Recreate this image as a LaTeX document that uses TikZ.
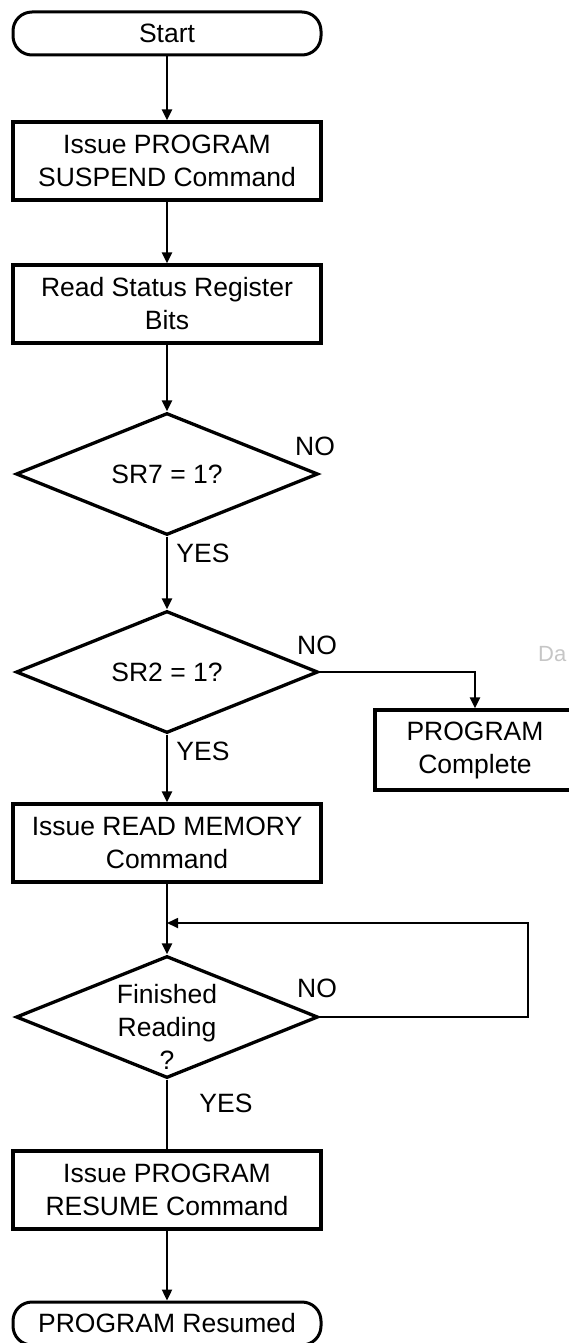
\documentclass[tikz,border=0pt]{standalone}
\usepackage{fontspec}
\setmainfont{Liberation Sans}
\usetikzlibrary{shapes.geometric,arrows.meta}

\begin{document}
\begin{tikzpicture}[x = 1pt, y = -1pt,
	 font = \fontsize{26.5}{33}\selectfont,
	 term/.style = {draw, line width = 3pt, rounded corners = 19pt, minimum width = 308pt, minimum height = 43pt, inner sep = 0pt},
	 proc/.style = {draw, line width = 3.3pt, minimum width = 308pt, minimum height = 78pt, inner sep = 0pt, align = center},
	 decision/.style = {draw, diamond, aspect = 2.5, line width = 3.3pt, minimum width = 302pt, minimum height = 122pt, inner sep = 0pt},
	 flow/.style = {line width = 2.3pt, -{Triangle[length = 11pt, width = 10pt]}},
	 back/.style = {line width = 1.7pt, -{Triangle[length = 11pt, width = 10pt]}}]
	 \useasboundingbox (0, 0) rectangle (569, 1343);
	 
	 \node[term] (start) at (167, 33.5) {Start};
	 \node[proc] (suspend) at (167, 161) {Issue PROGRAM\\SUSPEND Command};
	 \node[proc] (status) at (167, 304) {Read Status Register\\Bits};
	 \node[decision] (sr7) at (167, 474) {SR7 = 1?};
	 \node[decision] (sr2) at (167, 672) {SR2 = 1?};
	 \node[proc, minimum width = 200pt, minimum height = 80pt] (complete) at (475, 750) {PROGRAM\\Complete};
	 \node[proc] (readmem) at (167, 843) {Issue READ MEMORY\\Command};
	 \node[decision, label = {[align = center, yshift = -10pt]center:Finished\\Reading\\?}] (finished) at (167, 1017) {};
	 \node[proc] (resume) at (167, 1190) {Issue PROGRAM\\RESUME Command};
	 \node[term] (resumed) at (167, 1323.5) {PROGRAM Resumed};
	 
	 \node (no7) at (315, 446) {NO};
	 \node (yes7) at (203, 553) {YES};
	 \node (no2) at (317, 645) {NO};
	 \node (yes2) at (203, 751) {YES};
	 \node (no3) at (317, 988) {NO};
	 \node (yes3) at (226, 1103) {YES};
	 \node[anchor = west, inner sep = 0pt, text = gray!45, font = \fontsize{22}{28}\selectfont] (mark) at (538, 654) {Da};
	 
	 \draw[flow] (start) -- (suspend);
	 \draw[flow] (suspend) -- (status);
	 \draw[flow] (status) -- (sr7);
	 \draw[flow] (sr7) -- (sr2);
	 \draw[flow] (sr2.east) -| (complete);
	 \draw[flow] (sr2) -- (readmem);
	 \draw[flow] (readmem) -- (finished);
	 
	 \coordinate (turn) at (528, 923);
	 \draw[back] (finished.east) -| (turn) -- (turn -| finished.north);
	 \draw[line width = 2.3pt] (finished) -- (resume);
	 \draw[flow] (resume) -- (resumed);
\end{tikzpicture}
\end{document}
